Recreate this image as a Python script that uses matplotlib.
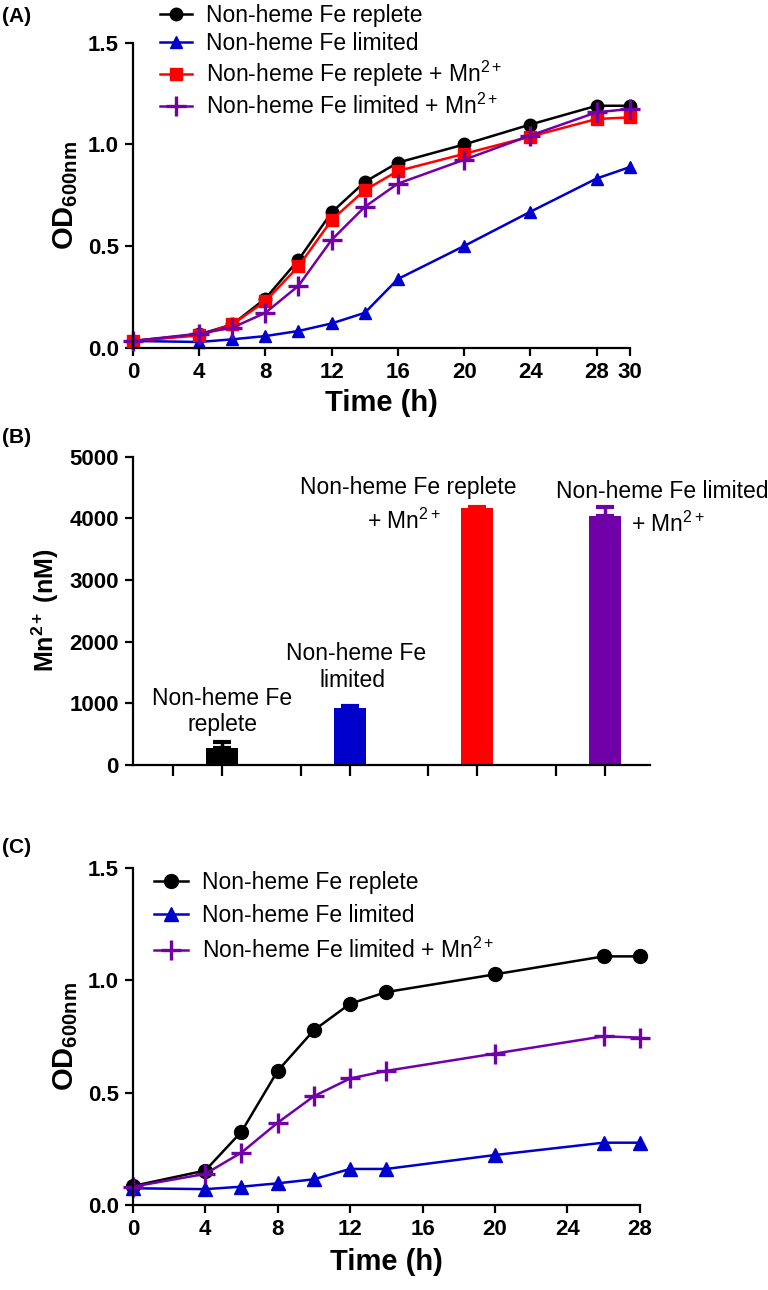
import matplotlib
matplotlib.use('Agg')
import matplotlib.pyplot as plt

plt.rcParams['font.family'] = ['Liberation Sans', 'DejaVu Sans']
plt.rcParams['mathtext.fontset'] = 'custom'
plt.rcParams['mathtext.rm'] = 'Liberation Sans'
plt.rcParams['mathtext.bf'] = 'Liberation Sans:bold'
plt.rcParams['mathtext.it'] = 'Liberation Sans:italic'

# Panel A: growth curves
time_a = [0, 4, 6, 8, 10, 12, 14, 16, 20, 24, 28, 30]
a_replete = [0.036, 0.068, 0.117, 0.244, 0.434, 0.667, 0.816, 0.911, 1.0, 1.098, 1.19, 1.19]
a_limited = [0.036, 0.031, 0.044, 0.060, 0.085, 0.122, 0.174, 0.34, 0.502, 0.67, 0.833, 0.889]
a_replete_mn = [0.036, 0.063, 0.117, 0.231, 0.402, 0.629, 0.776, 0.87, 0.954, 1.039, 1.125, 1.133]
a_limited_mn = [0.036, 0.072, 0.101, 0.174, 0.307, 0.532, 0.694, 0.808, 0.925, 1.044, 1.158, 1.174]

# Panel B: Mn2+ content
b_values = [270, 920, 4170, 4040]
b_err = [95, 30, 15, 140]
b_colors = ['#000000', '#0000cc', '#ff0000', '#7000a8']

# Panel C: growth curves
time_c = [0, 4, 6, 8, 10, 12, 14, 20, 26, 28]
c_replete = [0.084, 0.153, 0.326, 0.597, 0.778, 0.896, 0.948, 1.027, 1.107, 1.107]
c_limited = [0.074, 0.070, 0.081, 0.096, 0.114, 0.160, 0.160, 0.222, 0.277, 0.277]
c_limited_mn = [0.081, 0.138, 0.233, 0.366, 0.484, 0.563, 0.597, 0.674, 0.751, 0.745]

lab_rep = 'Non-heme Fe replete'
lab_lim = 'Non-heme Fe limited'
lab_rep_mn = 'Non-heme Fe replete + Mn$^{2+}$'
lab_lim_mn = 'Non-heme Fe limited + Mn$^{2+}$'

BLACK, BLUE, RED, PURPLE = '#000000', '#0000cc', '#ff0000', '#7000a8'

fig = plt.figure(figsize=(7.68, 12.9), dpi=100)


def style_axes(ax):
    for s in ['top', 'right']:
        ax.spines[s].set_visible(False)
    for s in ['left', 'bottom']:
        ax.spines[s].set_linewidth(1.6)
    ax.tick_params(direction='out', width=1.6, length=6, labelsize=16, pad=4)
    for lbl in ax.get_xticklabels() + ax.get_yticklabels():
        lbl.set_fontweight('bold')


def curve(ax, x, y, color, marker, label, ms):
    ax.plot(x, y, color=color, marker=marker, ms=ms, lw=1.8, label=label,
            mew=2.4 if marker == '+' else 1, clip_on=False)


# ---- (A)
axA = fig.add_axes([0.173, 0.730, 0.647, 0.237])
curve(axA, time_a, a_replete, BLACK, 'o', lab_rep, 9)
curve(axA, time_a, a_limited, BLUE, '^', lab_lim, 9)
curve(axA, time_a, a_replete_mn, RED, 's', lab_rep_mn, 9)
curve(axA, time_a, a_limited_mn, PURPLE, '+', lab_lim_mn, 14)
axA.set_xlim(0, 30)
axA.set_ylim(0, 1.5)
axA.set_xticks([0, 4, 8, 12, 16, 20, 24, 28, 30])
axA.set_yticks([0.0, 0.5, 1.0, 1.5])
axA.set_yticklabels(['0.0', '0.5', '1.0', '1.5'])
style_axes(axA)
axA.set_xlabel('Time (h)', fontsize=21, fontweight='bold', labelpad=4)
axA.set_ylabel(r'$\mathbf{OD_{600nm}}$', fontsize=21, labelpad=6)
axA.legend(loc='upper left', bbox_to_anchor=(0.196, 1.004), bbox_transform=fig.transFigure,
           frameon=False, fontsize=16.5, handlelength=1.4, handletextpad=0.6,
           labelspacing=0.2, borderaxespad=0)
fig.text(0.002, 0.987, '(A)', fontsize=15, fontweight='bold', va='center')

# ---- (B)
axB = fig.add_axes([0.173, 0.407, 0.673, 0.239])
pos = [1, 2, 3, 4]
axB.bar(pos, b_values, width=0.25, color=b_colors, zorder=2)
for p, v, e, c in zip(pos, b_values, b_err, b_colors):
    axB.errorbar(p, v, yerr=[[0], [e]], color=c, capsize=6.5, capthick=3,
                 elinewidth=2.5, zorder=1)
axB.set_xlim(0.3, 4.35)
axB.set_ylim(0, 5000)
axB.set_yticks([0, 1000, 2000, 3000, 4000, 5000])
axB.set_xticks(pos)
axB.set_xticks([p - 0.385 for p in pos], minor=True)
axB.set_xticklabels([])
style_axes(axB)
axB.tick_params(axis='x', which='both', length=8, width=1.6)
axB.set_ylabel(r'$\mathbf{Mn^{2+}}$ (nM)', fontsize=18, fontweight='bold', labelpad=6)

bfs = 16.5
axB.text(1.0, 1080, 'Non-heme Fe', ha='center', va='center', fontsize=bfs)
axB.text(1.0, 650, 'replete', ha='center', va='center', fontsize=bfs)
axB.text(2.05, 1810, 'Non-heme Fe', ha='center', va='center', fontsize=bfs)
axB.text(2.02, 1370, 'limited', ha='center', va='center', fontsize=bfs)
axB.text(2.456, 4496, 'Non-heme Fe replete', ha='center', va='center', fontsize=bfs)
axB.text(2.71, 3944, '+ Mn$^{2+}$', ha='right', va='center', fontsize=bfs)
axB.text(4.45, 4431, 'Non-heme Fe limited', ha='center', va='center', fontsize=bfs)
axB.text(4.2, 3895, '+ Mn$^{2+}$', ha='left', va='center', fontsize=bfs)
fig.text(0.002, 0.661, '(B)', fontsize=15, fontweight='bold', va='center')

# ---- (C)
axC = fig.add_axes([0.173, 0.066, 0.66, 0.261])
curve(axC, time_c, c_replete, BLACK, 'o', lab_rep, 10)
curve(axC, time_c, c_limited, BLUE, '^', lab_lim, 10)
curve(axC, time_c, c_limited_mn, PURPLE, '+', lab_lim_mn, 15)
axC.set_xlim(0, 28)
axC.set_ylim(0, 1.5)
axC.set_xticks([0, 4, 8, 12, 16, 20, 24, 28])
axC.set_yticks([0.0, 0.5, 1.0, 1.5])
axC.set_yticklabels(['0.0', '0.5', '1.0', '1.5'])
style_axes(axC)
axC.set_xlabel('Time (h)', fontsize=21, fontweight='bold', labelpad=6)
axC.set_ylabel(r'$\mathbf{OD_{600nm}}$', fontsize=21, labelpad=6)
axC.legend(loc='upper left', bbox_to_anchor=(0.188, 0.332), bbox_transform=fig.transFigure,
           frameon=False, fontsize=16.5, handlelength=1.5, handletextpad=0.6,
           labelspacing=0.45, borderaxespad=0)
fig.text(0.002, 0.343, '(C)', fontsize=15, fontweight='bold', va='center')

fig.savefig('out.png', dpi=100)
